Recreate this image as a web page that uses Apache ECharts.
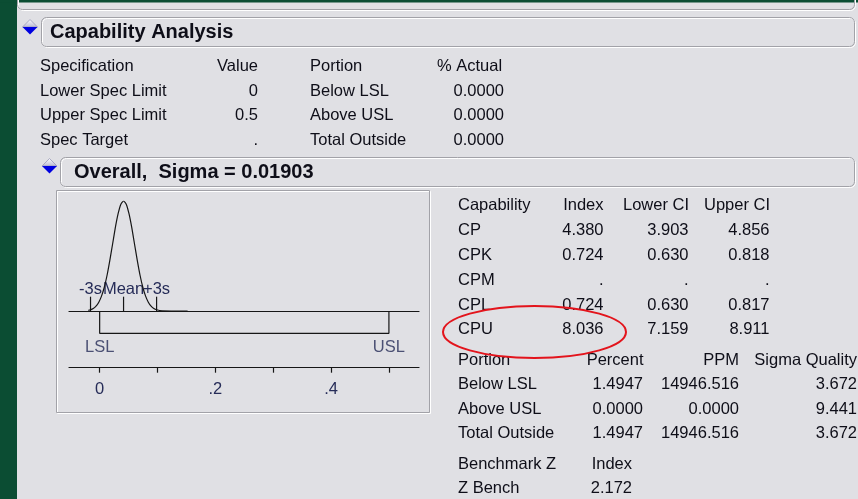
<!DOCTYPE html>
<html>
<head>
<meta charset="utf-8">
<script src="https://cdn.jsdelivr.net/npm/echarts@6/dist/echarts.min.js"></script>
<style>
  html, body { margin: 0; padding: 0; background: #e0e0e4; }
  #chart { width: 858px; height: 499px; }
</style>
</head>
<body>
<div id="chart"></div>
<script>
// spec limits and fitted normal
var lsl = 0;
var usl = 0.5;
var sigma = 0.01903;
var mean = 0.0413;

// normal curve (x value, relative height)
var curveX = [-0.0196, -0.0158, -0.0110, -0.0063, -0.0015, 0.0032, 0.0080, 0.0128, 0.0175, 0.0223,
  0.0270, 0.0318, 0.0365, 0.0413, 0.0461, 0.0508, 0.0556, 0.0603, 0.0651, 0.0698,
  0.0746, 0.0794, 0.0841, 0.0889, 0.0936, 0.0984, 0.1079, 0.152];
var curveH = [0.006, 0.011, 0.023, 0.044, 0.080, 0.135, 0.216, 0.325, 0.458, 0.607,
  0.755, 0.882, 0.969, 1.000, 0.969, 0.882, 0.755, 0.607, 0.458, 0.325,
  0.216, 0.135, 0.080, 0.044, 0.023, 0.011, 0.002, 0];

var markerNames = ['-3s', 'Mean', '+3s'];
var markerValues = [mean - 3 * sigma, mean, mean + 3 * sigma];
var xTickValues = [0, 0.1, 0.2, 0.3, 0.4, 0.5];
var xLabelValues = [0, 0.2, 0.4];

// tables
var specHeader = ['Specification', 'Value', 'Portion', '% Actual'];
var specNames = ['Lower Spec Limit', 'Upper Spec Limit', 'Spec Target'];
var specValues = ['0', '0.5', '.'];
var actualNames = ['Below LSL', 'Above USL', 'Total Outside'];
var actualPercent = ['0.0000', '0.0000', '0.0000'];

var capHeader = ['Capability', 'Index', 'Lower CI', 'Upper CI'];
var capNames = ['CP', 'CPK', 'CPM', 'CPL', 'CPU'];
var capIndex = ['4.380', '0.724', '.', '0.724', '8.036'];
var capLower = ['3.903', '0.630', '.', '0.630', '7.159'];
var capUpper = ['4.856', '0.818', '.', '0.817', '8.911'];

var portionHeader = ['Portion', 'Percent', 'PPM', 'Sigma Quality'];
var portionNames = ['Below LSL', 'Above USL', 'Total Outside'];
var portionPercent = ['1.4947', '0.0000', '1.4947'];
var portionPpm = ['14946.516', '0.0000', '14946.516'];
var portionSigma = ['3.672', '9.441', '3.672'];

var benchHeader = ['Benchmark Z', 'Index'];
var benchNames = ['Z Bench'];
var benchIndex = ['2.172'];

var FAMILY = '"Liberation Sans", Arial, sans-serif';
var FONT = '16.5px ' + FAMILY;
var BOLD = 'bold 20px ' + FAMILY;
var INK = '#0e0e18';
var PLOT_INK = '#262c58';
var X_MIN = -0.053, X_MAX = 0.552;
var MARK_TOP = 15, BRACKET = -21.6;

function txt(s, x, y, align, font, color) {
  return {
    type: 'text', z: 10,
    style: { text: s, x: x, y: y, align: align || 'left', verticalAlign: 'middle',
      font: font || FONT, fill: color || INK }
  };
}

function column(arr, x, y0, dy, align) {
  return arr.map(function (s, i) { return txt(s, x, y0 + i * dy, align); });
}

function etchedBox(x, y, w, h, r) {
  return [
    { type: 'rect', z: 1, shape: { x: x + 1, y: y + 1, width: w, height: h, r: r },
      style: { fill: 'none', stroke: '#ffffff', lineWidth: 1 } },
    { type: 'rect', z: 2, shape: { x: x, y: y, width: w, height: h, r: r },
      style: { fill: 'none', stroke: '#a2a2a8', lineWidth: 1 } }
  ];
}

function disclosure(cx, cy) {
  return [
    { type: 'polygon', z: 5, shape: { points: [[cx - 7.5, cy], [cx, cy - 7.5], [cx + 7.5, cy]] },
      style: { fill: new echarts.graphic.LinearGradient(0, 0, 0, 1, [
        { offset: 0, color: '#ffffff' }, { offset: 1, color: '#b8b8d0' }]),
        stroke: '#9a9ab8', lineWidth: 0.8 } },
    { type: 'polygon', z: 5, shape: { points: [[cx - 7.5, cy], [cx + 7.5, cy], [cx, cy + 7.5]] },
      style: { fill: '#0000e0' } }
  ];
}

var graphics = [
  { type: 'rect', z: 0, shape: { x: 0, y: 0, width: 17, height: 499 }, style: { fill: '#0b4d33' } },
  { type: 'rect', z: 0, shape: { x: 0, y: 0, width: 858, height: 2.5 }, style: { fill: '#0b4d33' } }
]
  .concat(etchedBox(17.5, -20.5, 837, 30, 5))
  .concat(etchedBox(41.5, 17.5, 813, 29, 5))
  .concat(etchedBox(60.5, 157.5, 794, 29, 5))
  .concat([
    { type: 'rect', z: 1, shape: { x: 57.5, y: 191.5, width: 373, height: 222 },
      style: { fill: 'none', stroke: '#ffffff', lineWidth: 1 } },
    { type: 'rect', z: 2, shape: { x: 56.5, y: 190.5, width: 373, height: 222 },
      style: { fill: 'none', stroke: '#a2a2a8', lineWidth: 1 } }
  ])
  .concat(disclosure(30, 27))
  .concat(disclosure(49.5, 166))
  .concat([
    txt('Capability Analysis', 50, 32.5, 'left', BOLD),
    txt('Overall,  Sigma = 0.01903', 74, 172, 'left', BOLD)
  ])
  // specification table
  .concat([txt(specHeader[0], 40, 66.5), txt(specHeader[1], 258, 66.5, 'right'),
    txt(specHeader[2], 310, 66.5), txt(specHeader[3], 437, 66.5)])
  .concat(column(specNames, 40, 91, 24.5))
  .concat(column(specValues, 258, 91, 24.5, 'right'))
  .concat(column(actualNames, 310, 91, 24.5))
  .concat(column(actualPercent, 504, 91, 24.5, 'right'))
  // capability table
  .concat([txt(capHeader[0], 458, 205.5), txt(capHeader[1], 603.5, 205.5, 'right'),
    txt(capHeader[2], 689, 205.5, 'right'), txt(capHeader[3], 770, 205.5, 'right')])
  .concat(column(capNames, 458, 230.3, 24.9))
  .concat(column(capIndex, 603.5, 230.3, 24.9, 'right'))
  .concat(column(capLower, 688.5, 230.3, 24.9, 'right'))
  .concat(column(capUpper, 769.5, 230.3, 24.9, 'right'))
  // portion table
  .concat([txt(portionHeader[0], 458, 360), txt(portionHeader[1], 643.5, 360, 'right'),
    txt(portionHeader[2], 739, 360, 'right'), txt(portionHeader[3], 857, 360, 'right')])
  .concat(column(portionNames, 458, 384.5, 24.7))
  .concat(column(portionPercent, 643, 384.5, 24.7, 'right'))
  .concat(column(portionPpm, 739, 384.5, 24.7, 'right'))
  .concat(column(portionSigma, 857, 384.5, 24.7, 'right'))
  // benchmark
  .concat([txt(benchHeader[0], 458, 464), txt(benchHeader[1], 632, 464, 'right')])
  .concat(column(benchNames, 458, 488, 24))
  .concat(column(benchIndex, 632, 488, 24, 'right'))
  .concat([
    { type: 'ellipse', z: 20, shape: { cx: 534.5, cy: 332, rx: 91.5, ry: 26 },
      style: { fill: 'none', stroke: '#e3141c', lineWidth: 2 } }
  ]);

var chart = echarts.init(document.getElementById('chart'));
var lineStyle = { color: '#161616', width: 1.2 };
var plotLabel = { color: PLOT_INK, fontSize: 16.5, fontFamily: FAMILY };

chart.setOption({
  backgroundColor: '#e0e0e4',
  animation: false,
  graphic: graphics,
  grid: [
    { left: 69, width: 350, top: 201, height: 110, outerBoundsMode: 'none' },
    { left: 69, width: 350, top: 296.7, height: 36.6, outerBoundsMode: 'none' },
    { left: 69, width: 350, top: 340, height: 27.7, outerBoundsMode: 'none' }
  ],
  xAxis: [
    { gridIndex: 0, type: 'value', min: X_MIN, max: X_MAX, show: false },
    { gridIndex: 1, type: 'value', min: X_MIN, max: X_MAX,
      splitLine: { show: false },
      axisLine: { show: true, onZero: true, lineStyle: lineStyle },
      axisTick: { show: false },
      axisLabel: { show: false } },
    { gridIndex: 2, type: 'value', min: X_MIN, max: X_MAX, position: 'bottom',
      splitLine: { show: false },
      axisLine: { show: true, onZero: false, lineStyle: lineStyle },
      axisTick: { show: true, length: 5, customValues: xTickValues, lineStyle: lineStyle },
      axisLabel: Object.assign({ show: true, margin: 13, hideOverlap: false,
        customValues: xLabelValues,
        formatter: function (v) { return v === 0 ? '0' : String(v).replace(/^0\./, '.'); } }, plotLabel) }
  ],
  yAxis: [
    { gridIndex: 0, type: 'value', min: 0, max: 1, show: false },
    { gridIndex: 1, type: 'value', min: BRACKET, max: MARK_TOP, show: false },
    { gridIndex: 2, type: 'value', min: 0, max: 1, show: false }
  ],
  series: [
    {
      type: 'line', xAxisIndex: 0, yAxisIndex: 0, symbol: 'none', smooth: 0.2,
      lineStyle: lineStyle,
      data: curveX.map(function (x, i) { return [x, curveH[i]]; })
    },
    {
      type: 'line', xAxisIndex: 1, yAxisIndex: 1, symbol: 'none',
      lineStyle: lineStyle,
      data: [[lsl, 0], [lsl, BRACKET], [usl, BRACKET], [usl, 0]]
    },
    {
      // -3s / Mean / +3s markers on the spec axis
      type: 'custom', xAxisIndex: 1, yAxisIndex: 1, clip: false,
      data: markerValues.map(function (v, i) { return [v, i]; }),
      renderItem: function (params, api) {
        var x = api.value(0);
        var p0 = api.coord([x, 0]);
        var p1 = api.coord([x, MARK_TOP]);
        return {
          type: 'group',
          children: [
            { type: 'line', shape: { x1: p0[0], y1: p0[1], x2: p1[0], y2: p1[1] },
              style: { stroke: lineStyle.color, lineWidth: lineStyle.width } },
            { type: 'text', style: { text: markerNames[params.dataIndex], x: p1[0], y: p1[1] - 7.7,
              align: 'center', verticalAlign: 'middle', font: FONT, fill: PLOT_INK } }
          ]
        };
      }
    },
    {
      type: 'scatter', xAxisIndex: 1, yAxisIndex: 1, symbolSize: 0,
      label: Object.assign({ show: true, position: 'bottom', distance: 6,
        formatter: function (p) { return p.name; } }, plotLabel),
      data: [{ name: 'LSL', value: [lsl, BRACKET] }, { name: 'USL', value: [usl, BRACKET] }]
    }
  ]
});
</script>
</body>
</html>
